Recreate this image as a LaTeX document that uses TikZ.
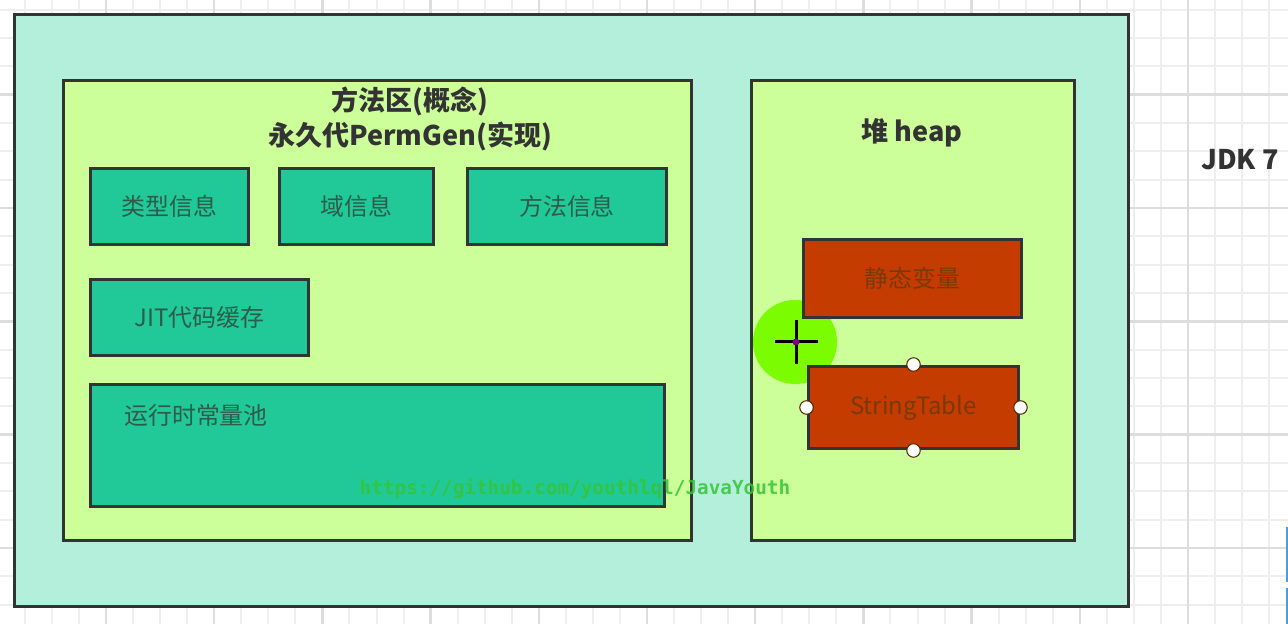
\documentclass[tikz,border=0pt]{standalone}
\usepackage{fontspec}
\setmainfont{Noto Sans CJK SC}
\setmonofont{DejaVu Sans Mono}
\usepackage{tikz}
\usetikzlibrary{positioning}
\definecolor{gridminor}{HTML}{EEEEEE}
\definecolor{gridmajor}{HTML}{DDDDDD}
\definecolor{outerfill}{HTML}{B4EFDC}
\definecolor{limefill}{HTML}{CCFF99}
\definecolor{tealfill}{HTML}{20C997}
\definecolor{tealtext}{HTML}{2E5C4A}
\definecolor{rustfill}{HTML}{C43C00}
\definecolor{rusttext}{HTML}{7A3A08}
\definecolor{edgegray}{HTML}{333333}
\definecolor{cursorgreen}{HTML}{7CFC00}
\definecolor{markgreen}{HTML}{36C436}
\definecolor{selblue}{HTML}{4A9FE0}

\tikzset{
	area/.style={draw=edgegray, line width=0.06cm, inner sep=0pt},
	infobox/.style={area, fill=tealfill, text=tealtext, minimum height=1.54cm, font=\fontsize{13.6}{16}\selectfont},
	heapbox/.style={area, fill=rustfill, text=rusttext, font=\fontsize{13.6}{16}\selectfont},
	title/.style={text=edgegray, font=\fontsize{15.4}{18}\selectfont\bfseries, inner sep=0pt},
	handle/.style={circle, draw=rusttext!70!black, fill=white, line width=0.6pt, minimum size=0.27cm, inner sep=0pt}
}

\begin{document}
\begin{tikzpicture}[x=0.02cm, y=-0.02cm]
		\useasboundingbox (0,0) rectangle (1288,624);
		\fill[white] (0,0) rectangle (1288,624);
		% grid behind
		\foreach \k in {-3,...,44}{
			\draw[gridminor, line width=0.04cm] (106+27.05*\k,0)--(106+27.05*\k,624);
		}
		\foreach \k in {-7,...,14}{
			\draw[gridminor, line width=0.04cm] (0,208+28.33*\k)--(1288,208+28.33*\k);
		}
		\foreach \m in {0,...,10}{
			\draw[gridmajor, line width=0.05cm] (106+108.2*\m,0)--(106+108.2*\m,624);
		}
		\foreach \m in {-1,...,3}{
			\draw[gridmajor, line width=0.05cm] (0,208+113.33*\m)--(1288,208+113.33*\m);
		}
		% blocks
		\node[area, fill=outerfill, minimum width=22.3cm, minimum height=11.86cm] (jdk) at (571.5,310.5) {};
		\node[area, fill=limefill, minimum width=12.58cm, minimum height=9.22cm] (methodarea) at (377.5,310.5) {};
		\node[area, fill=limefill, minimum width=6.48cm, minimum height=9.22cm] (heap) at (913,310.5) {};
		\node[title] (concept) at (410,101) {方法区(概念)};
		\node[title] (permgen) at (410,136) {永久代PermGen(实现)};
		\node[title] (heaptitle) at (912,133) {堆 heap};
		\node[title] (version) at (1240,160) {JDK 7};
		% method area contents
		\node[infobox, minimum width=3.18cm] (typeinfo) at (169.5,206.5) {类型信息};
		\node[infobox, minimum width=3.10cm] (fieldinfo) at (356.5,206.5) {域信息};
		\node[infobox, minimum width=4.00cm] (methodinfo) at (567,206.5) {方法信息};
		\node[infobox, minimum width=4.38cm] (jitcache) at (199.5,317.5) {JIT代码缓存};
		\node[infobox, minimum width=11.5cm, minimum height=2.46cm] (pool) at (377.5,445.5) {};
		\node[text=tealtext, font=\fontsize{13.6}{16}\selectfont, anchor=west, inner sep=0pt] (poollabel) at (124,415) {运行时常量池};
		% heap contents
		\fill[cursorgreen] (795,342) circle (42);
		\node[heapbox, minimum width=4.38cm, minimum height=1.58cm] (staticvar) at (912.5,278.5) {静态变量};
		\node[heapbox, minimum width=4.22cm, minimum height=1.66cm] (stringtable) at (913.5,407.5) {StringTable};
		\foreach \a in {north,south,east,west}{
			\node[handle] at (stringtable.\a) {};
		}
		% cursor
		\draw[black, line width=0.06cm] (775,342)--(818,342);
		\draw[black, line width=0.06cm] (796,320)--(796,364);
		\fill[violet] (796,342) circle (3.5);
		% watermark
		\node[text=markgreen, text opacity=0.85, font=\ttfamily\bfseries\fontsize{11}{13}\selectfont, inner sep=0pt] (mark) at (575,489) {https://github.com/youthlql/JavaYouth};
		% selection edge at the right
		\draw[selblue, line width=0.05cm] (1287,527)--(1287,582);
		\draw[selblue, line width=0.05cm] (1287,588)--(1287,624);
	\end{tikzpicture}
\end{document}
